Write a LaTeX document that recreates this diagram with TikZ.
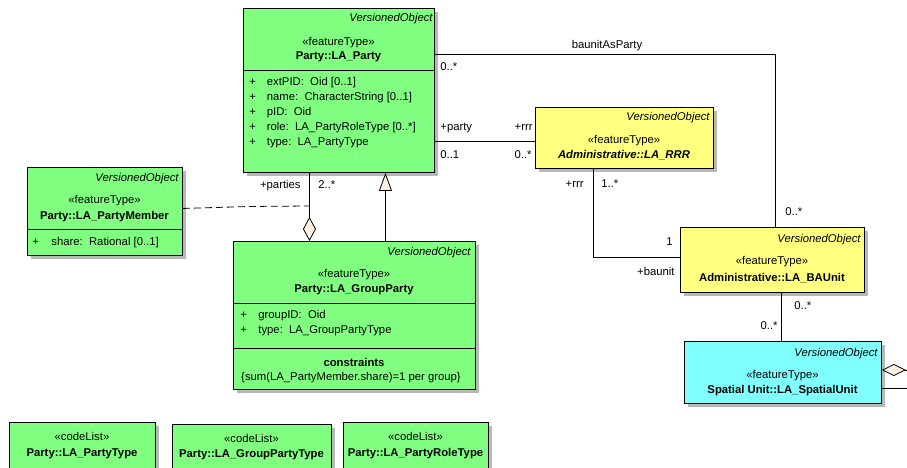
\documentclass[tikz,border=0pt]{standalone}
\usepackage{fontspec}
\setmainfont{Liberation Sans}
\usepackage{tikz}
\usetikzlibrary{arrows.meta}
\usetikzlibrary{shadows}
\definecolor{partygreen}{RGB}{128,255,128}
\definecolor{admyellow}{RGB}{255,255,128}
\definecolor{spatialcyan}{RGB}{128,255,255}
\definecolor{tipcream}{RGB}{255,242,228}
\newcommand{\umlsize}{\fontsize{11.3}{13}\selectfont}
\tikzset{umlbox/.style={draw, line width=0.9pt, anchor=north west, inner sep=0pt,
    drop shadow={shadow xshift=4pt, shadow yshift=-4pt, fill=black!28, opacity=1}},
  txt/.style={inner sep=0pt, text height=8pt, text depth=0pt, font=\umlsize},
  vo/.style={txt, anchor=east, font=\umlsize\itshape},
  cname/.style={txt, font=\umlsize\bfseries},
  attr/.style={txt, anchor=west},
  aggr/.style={-{Diamond[fill=tipcream,length=24pt,width=13pt]}},
  gen/.style={-{Triangle[fill=tipcream,length=18pt,width=13pt]}}
}

\begin{document}
\begin{tikzpicture}[x=1pt,y=-1pt,line width=0.8pt]
                \useasboundingbox (0,0) rectangle (907,468);

                % Classes
                \node[umlbox, fill=partygreen, minimum width=191pt, minimum height=164pt] (party) at (243,8) {};
                \draw[line width=0.9pt] ([yshift=-62pt]party.north west) -- ([yshift=-62pt]party.north east);
                \node[vo] (party-vo) at (433,18) {VersionedObject};
                \node[txt] (party-st) at (338.5,42) {«featureType»};
                \node[cname] (party-name) at (338.5,56) {Party::LA\_Party};
                \node[attr] (party-a1) at (249,82) {\makebox[17.5pt][l]{+}extPID:~~Oid [0..1]};
                \node[attr] (party-a2) at (249,97) {\makebox[17.5pt][l]{+}name:~~CharacterString [0..1]};
                \node[attr] (party-a3) at (249,112) {\makebox[17.5pt][l]{+}pID:~~Oid};
                \node[attr] (party-a4) at (249,127) {\makebox[17.5pt][l]{+}role:~~LA\_PartyRoleType [0..*]};
                \node[attr] (party-a5) at (249,142) {\makebox[17.5pt][l]{+}type:~~LA\_PartyType};

                \node[umlbox, fill=partygreen, minimum width=155pt, minimum height=88pt] (member) at (27,167) {};
                \draw[line width=0.9pt] ([yshift=-62pt]member.north west) -- ([yshift=-62pt]member.north east);
                \node[vo] (member-vo) at (179,177) {VersionedObject};
                \node[txt] (member-st) at (104.5,199) {«featureType»};
                \node[cname] (member-name) at (104.5,215) {Party::LA\_PartyMember};
                \node[attr] (member-a1) at (32,241) {\makebox[19pt][l]{+}share:~~Rational [0..1]};

                \node[umlbox, fill=partygreen, minimum width=242pt, minimum height=148pt] (group) at (233,241) {};
                \draw[line width=0.9pt] ([yshift=-62pt]group.north west) -- ([yshift=-62pt]group.north east);
                \draw[line width=0.9pt] ([yshift=-107pt]group.north west) -- ([yshift=-107pt]group.north east);
                \node[vo] (group-vo) at (471,251) {VersionedObject};
                \node[txt] (group-st) at (354,273) {«featureType»};
                \node[cname] (group-name) at (354,288) {Party::LA\_GroupParty};
                \node[attr] (group-a1) at (240,314) {\makebox[18pt][l]{+}groupID:~~Oid};
                \node[attr] (group-a2) at (240,329) {\makebox[18pt][l]{+}type:~~LA\_GroupPartyType};
                \node[cname] (group-cons) at (354,362) {constraints};
                \node[txt] (group-rule) at (351,376) {\{sum(LA\_PartyMember.share)=1 per group\}};

                \node[umlbox, fill=admyellow, minimum width=178pt, minimum height=61pt] (rrr) at (535,107) {};
                \node[vo] (rrr-vo) at (710,117) {VersionedObject};
                \node[txt] (rrr-st) at (624,139) {«featureType»};
                \node[cname, font=\umlsize\bfseries\itshape] (rrr-name) at (624,154) {Administrative::LA\_RRR};

                \node[umlbox, fill=admyellow, minimum width=184pt, minimum height=65pt] (baunit) at (680,227) {};
                \node[vo] (baunit-vo) at (861,238) {VersionedObject};
                \node[txt] (baunit-st) at (772,260) {«featureType»};
                \node[cname] (baunit-name) at (772,277) {Administrative::LA\_BAUnit};

                \node[umlbox, fill=spatialcyan, minimum width=197pt, minimum height=62pt] (spatial) at (684,341) {};
                \node[vo] (spatial-vo) at (878,352) {VersionedObject};
                \node[txt] (spatial-st) at (782.5,374) {«featureType»};
                \node[cname] (spatial-name) at (782.5,389) {Spatial Unit::LA\_SpatialUnit};

                % Code lists
                \node[umlbox, fill=partygreen, minimum width=146pt, minimum height=52pt] (ptype) at (9,422) {};
                \node[txt] (ptype-st) at (82,436) {«codeList»};
                \node[cname] (ptype-name) at (82,452) {Party::LA\_PartyType};
                \node[umlbox, fill=partygreen, minimum width=159pt, minimum height=50pt] (gptype) at (172,424) {};
                \node[txt] (gptype-st) at (251.5,438) {«codeList»};
                \node[cname] (gptype-name) at (251.5,453) {Party::LA\_GroupPartyType};
                \node[umlbox, fill=partygreen, minimum width=145pt, minimum height=52pt] (prtype) at (343,422) {};
                \node[txt] (prtype-st) at (415.5,436) {«codeList»};
                \node[cname] (prtype-name) at (415.5,452) {Party::LA\_PartyRoleType};

                % Associations
                \draw ([yshift=36pt]party.east) -| ([xshift=3pt]baunit.north);
                \draw ([yshift=-51pt]party.east) -- ([yshift=-3.5pt]rrr.west);
                \draw ([xshift=-31pt]rrr.south) |- ([yshift=2.5pt]baunit.west);
                \draw ([xshift=9pt]baunit.south) -- ([xshift=-1.5pt]spatial.north);

                \draw[aggr] ([xshift=-45pt]group.north |- party.south) -- ([xshift=-45pt]group.north);
                \draw[gen] ([xshift=31pt]group.north) -- ([xshift=31pt]group.north |- party.south);
                \coordinate (parties-mid) at (309,206);
                \draw[dash pattern=on 7pt off 4pt] ([yshift=3pt]member.east) -- ++(68,-2) -- (parties-mid);

                \coordinate (right-a) at (912,370);
                \coordinate (right-b) at (912,388);
                \draw[{Diamond[fill=tipcream,length=24pt,width=12pt]}-] (right-a -| spatial.east) -- (right-a);
                \draw (right-b -| spatial.east) -- (right-b);

                % Labels
                \node[txt] (asparty-name) at (607,45) {baunitAsParty};
                \node[txt, anchor=west] (asparty-m1) at (440,67) {0..*};
                \node[txt, anchor=west] (asparty-m2) at (785,211) {0..*};
                \node[txt, anchor=west] (party-role) at (440,127) {+party};
                \node[txt, anchor=east] (rrr-role) at (533,127) {+rrr};
                \node[txt, anchor=west] (party-mult) at (440,154) {0..1};
                \node[txt, anchor=east] (rrr-mult) at (532,154) {0..*};
                \node[txt, anchor=east] (rrr-role2) at (584,183) {+rrr};
                \node[txt, anchor=west] (rrr-mult2) at (601,183) {1..*};
                \node[txt, anchor=east] (baunit-mult) at (673,241) {1};
                \node[txt, anchor=east] (baunit-role) at (675,271) {+baunit};
                \node[txt, anchor=west] (spatial-m1) at (794,305) {0..*};
                \node[txt, anchor=east] (spatial-m2) at (778,325) {0..*};
                \node[txt, anchor=east] (parties-role) at (301,184) {+parties};
                \node[txt, anchor=west] (parties-mult) at (318,184) {2..*};
            \end{tikzpicture}
\end{document}
